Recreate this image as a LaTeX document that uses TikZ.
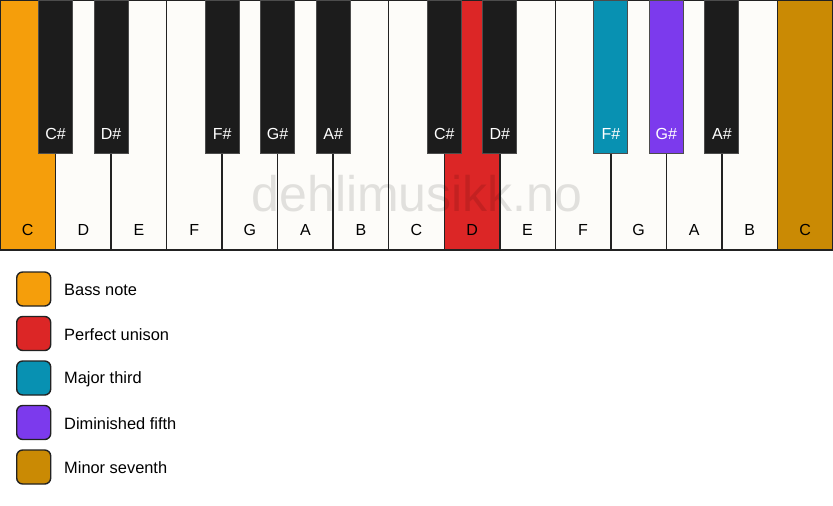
\documentclass[tikz,border=0pt]{standalone}
\usepackage{fontspec}
\setmainfont{Liberation Sans}
\definecolor{bassC}{HTML}{F59E0B}
\definecolor{unisonC}{HTML}{DC2626}
\definecolor{thirdC}{HTML}{0891B2}
\definecolor{fifthC}{HTML}{7C3AED}
\definecolor{seventhC}{HTML}{CA8A04}
\definecolor{ivory}{HTML}{FDFCF9}
\definecolor{ebony}{HTML}{1C1C1C}
\definecolor{edge}{HTML}{222222}
\tikzset{
  x=1pt,y=-1pt,
  whitekey/.style={draw=edge,line width=1.4pt,fill=ivory,minimum width=55.53pt,minimum height=250pt,inner sep=0pt,outer sep=0pt,anchor=north west},
  blackkey/.style={draw=black!70,line width=1pt,fill=ebony,minimum width=34pt,minimum height=153pt,inner sep=0pt,outer sep=0pt,anchor=north},
  wlabel/.style={font=\fontsize{16}{19}\selectfont,text=black,anchor=center,inner sep=0pt},
  blabel/.style={font=\fontsize{16}{19}\selectfont,text=white,anchor=center,inner sep=0pt},
  legbox/.style={draw=edge,line width=1.4pt,rounded corners=6pt,minimum width=34pt,minimum height=34pt,inner sep=0pt,anchor=west},
  legtext/.style={font=\fontsize{16.4}{19}\selectfont,anchor=west,inner sep=0pt},
}
\begin{document}
\begin{tikzpicture}
\useasboundingbox[fill=white] (0,0) rectangle (833,506);
% white keys
\foreach \n/\lab/\col [count=\i from 0] in {w1/C/bassC,w2/D/ivory,w3/E/ivory,w4/F/ivory,w5/G/ivory,w6/A/ivory,w7/B/ivory,w8/C/ivory,w9/D/unisonC,w10/E/ivory,w11/F/ivory,w12/G/ivory,w13/A/ivory,w14/B/ivory,w15/C/seventhC}{
  \node[whitekey,fill=\col] (\n) at ({\i*55.533},0) {};
  \node[wlabel] (\n l) at ({\i*55.533+27.77},230) {\lab};
}
% watermark
\node[font=\fontsize{50}{60}\selectfont,text=black,text opacity=0.11,anchor=base,inner sep=0pt] (wm) at (417,211) {dehlimusikk.no};
% black keys
\foreach \n/\pos/\lab/\col/\tc in {b1/1/C\#/ebony/white,b2/2/D\#/ebony/white,b3/4/F\#/ebony/white,b4/5/G\#/ebony/white,b5/6/A\#/ebony/white,b6/8/C\#/ebony/white,b7/9/D\#/ebony/white,b8/11/F\#/thirdC/white,b9/12/G\#/fifthC/white,b10/13/A\#/ebony/white}{
  \node[blackkey,fill=\col] (\n) at ({\pos*55.533},0) {};
  \node[blabel,text=\tc] (\n l) at ({\pos*55.533},133.5) {\lab};
}
% legend
\foreach \n/\yy/\col/\txt in {l1/289/bassC/Bass note,l2/333.5/unisonC/Perfect unison,l3/378/thirdC/Major third,l4/422.5/fifthC/Diminished fifth,l5/467/seventhC/Minor seventh}{
  \node[legbox,fill=\col] (\n) at (16,\yy) {};
  \node[legtext] (\n t) at (64,\yy+1) {\txt};
}
\end{tikzpicture}
\end{document}
